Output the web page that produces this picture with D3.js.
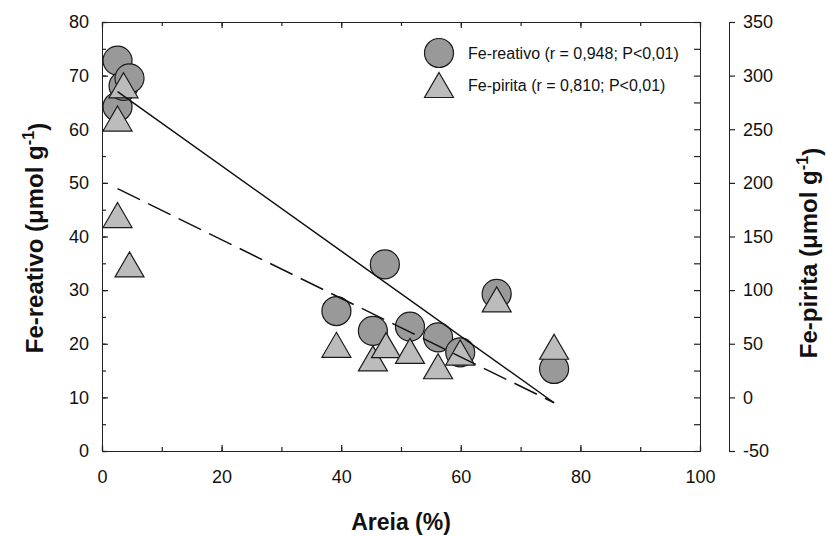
<!DOCTYPE html>
<html><head><meta charset="utf-8">
<script src="https://cdn.jsdelivr.net/npm/d3@7"></script>
<style>
body{margin:0;background:#fff;}
text{font-family:Arial,"Liberation Sans",sans-serif;fill:#111;}
</style></head>
<body><svg id="c" width="827" height="536"></svg>
<script>
// ---- data ----
const areia      = [2.6, 2.6, 3.6, 4.6, 39.2, 45.3, 47.3, 51.5, 56.2, 59.9, 66.0, 75.6];
const feReativo  = [72.8, 64.2, 68.1, 69.5, 26.1, 22.4, 34.8, 23.2, 21.2, 18.4, 29.3, 15.3];
const areiaPir   = [2.6, 2.6, 3.6, 4.6, 39.2, 45.3, 47.5, 51.5, 56.2, 59.9, 66.0, 75.6];
const fePirita   = [260, 170, 291, 124, 49.0, 36.4, 48.7, 43.4, 29.0, 41.8, 91.4, 47.2];
const fitX       = [2.6, 75.6];
const fitReativo = [67.0, 9.0];
const fitPirita  = [194.6, -5.0];
const xTicks     = [0, 20, 40, 60, 80, 100];
const yLeftTicks = [0, 10, 20, 30, 40, 50, 60, 70, 80];
const yRightTicks= [-50, 0, 50, 100, 150, 200, 250, 300, 350];
const legendLabels = ["Fe-reativo (r = 0,948; P<0,01)", "Fe-pirita (r = 0,810; P<0,01)"];

// ---- layout ----
const L = 102, R = 700, T = 22, B = 451, RA = 729;
const svg = d3.select("#c");
const x = d3.scaleLinear().domain([0, 100]).range([L, R]);
const yL = d3.scaleLinear().domain([0, 80]).range([B, T]);
const yR = d3.scaleLinear().domain([-50, 350]).range([B, T]);
const axisCol = "#222";

function styleAxis(g){
  g.select(".domain").attr("stroke", axisCol).attr("stroke-width", 1.4);
  g.selectAll(".tick line").attr("stroke", axisCol).attr("stroke-width", 1.2);
  g.selectAll(".tick text").style("font-size", "18px").attr("fill", "#111");
}
const minorL = d3.range(0, 80.1, 5);
const minorX = d3.range(0, 100.1, 10);

// left axis
svg.append("g").attr("transform", `translate(${L},0)`)
  .call(d3.axisLeft(yL).tickValues(minorL).tickSize(-4).tickFormat(""))
  .call(styleAxis);
svg.append("g").attr("transform", `translate(${L},0)`)
  .call(d3.axisLeft(yL).tickValues(yLeftTicks).tickSize(-6).tickPadding(13).tickFormat(d3.format("d")))
  .call(styleAxis);
// right frame line
svg.append("g").attr("transform", `translate(${R},0)`)
  .call(d3.axisRight(yL).tickValues(minorL).tickSize(-6).tickFormat(""))
  .call(styleAxis);
// bottom axis
svg.append("g").attr("transform", `translate(0,${B})`)
  .call(d3.axisBottom(x).tickValues(minorX).tickSize(-4).tickFormat(""))
  .call(styleAxis);
svg.append("g").attr("transform", `translate(0,${B})`)
  .call(d3.axisBottom(x).tickValues(xTicks).tickSize(-6).tickPadding(19).tickFormat(d3.format("d")))
  .call(styleAxis);
// top frame
svg.append("g").attr("transform", `translate(0,${T})`)
  .call(d3.axisTop(x).tickValues(minorX).tickSize(-4).tickFormat(""))
  .call(styleAxis);
svg.append("g").attr("transform", `translate(0,${T})`)
  .call(d3.axisTop(x).tickValues(xTicks).tickSize(-6).tickFormat(""))
  .call(styleAxis);
// right axis
svg.append("g").attr("transform", `translate(${RA},0)`)
  .call(d3.axisRight(yR).tickValues(yRightTicks).tickSize(6).tickPadding(8).tickFormat(d3.format("d")))
  .call(styleAxis);
svg.selectAll(".domain").attr("shape-rendering", "crispEdges");
svg.selectAll(".tick text").filter(d => d < 0).text(d => "-" + Math.abs(d));

// ---- marks ----
const circFill = "#999999", triFill = "#bcbcbc", mk = "#1a1a1a";

svg.append("g").selectAll("circle").data(areia).join("circle")
  .attr("cx", d => x(d)).attr("cy", (d, i) => yL(feReativo[i])).attr("r", 14.5)
  .attr("fill", circFill).attr("stroke", mk).attr("stroke-width", 1.2);

function triPath(cx, cy){
  const w = 29, h = 25;
  return `M${cx},${cy - h/2}L${cx + w/2},${cy + h/2}L${cx - w/2},${cy + h/2}Z`;
}
svg.append("g").selectAll("path").data(areiaPir).join("path")
  .attr("d", (d, i) => triPath(x(d), yR(fePirita[i])))
  .attr("fill", triFill).attr("stroke", mk).attr("stroke-width", 1.2);

const line = d3.line();
svg.append("path")
  .attr("d", line(fitX.map((d, i) => [x(d), yL(fitReativo[i])])))
  .attr("stroke", "#111").attr("stroke-width", 1.5).attr("fill", "none");
svg.append("path")
  .attr("d", line(fitX.map((d, i) => [x(d), yR(fitPirita[i])])))
  .attr("stroke", "#111").attr("stroke-width", 1.5).attr("fill", "none")
  .attr("stroke-dasharray", "25,9");

// ---- legend ----
const lg = svg.append("g");
lg.append("circle").attr("cx", 439).attr("cy", 53).attr("r", 14.5)
  .attr("fill", circFill).attr("stroke", mk).attr("stroke-width", 1.2);
lg.append("path").attr("d", triPath(439, 85))
  .attr("fill", triFill).attr("stroke", mk).attr("stroke-width", 1.2);
lg.selectAll("text").data(legendLabels).join("text")
  .attr("x", 468).attr("y", (d, i) => 53 + i * 32).attr("dy", "0.36em")
  .style("font-size", "16px").text(d => d);

// ---- titles ----
svg.append("text").attr("x", x(50)).attr("y", 522).attr("dy", "0.36em")
  .attr("text-anchor", "middle").style("font-size", "23px").style("font-weight", "bold")
  .text("Areia (%)");

function yTitle(cx, cy, main, fs){
  const t = svg.append("text").attr("transform", `translate(${cx},${cy}) rotate(-90)`)
    .attr("text-anchor", "middle").attr("dy", "0.36em")
    .style("font-size", fs + "px").style("font-weight", "bold");
  t.append("tspan").text(main + " (μmol g");
  t.append("tspan").attr("dy", "-0.5em").style("font-size", (fs * 0.68) + "px").text("-1");
  t.append("tspan").attr("dy", "0.5em").text(")");
}
yTitle(34, 238, "Fe-reativo", 24);
yTitle(808, 253, "Fe-pirita", 24);
</script></body></html>
